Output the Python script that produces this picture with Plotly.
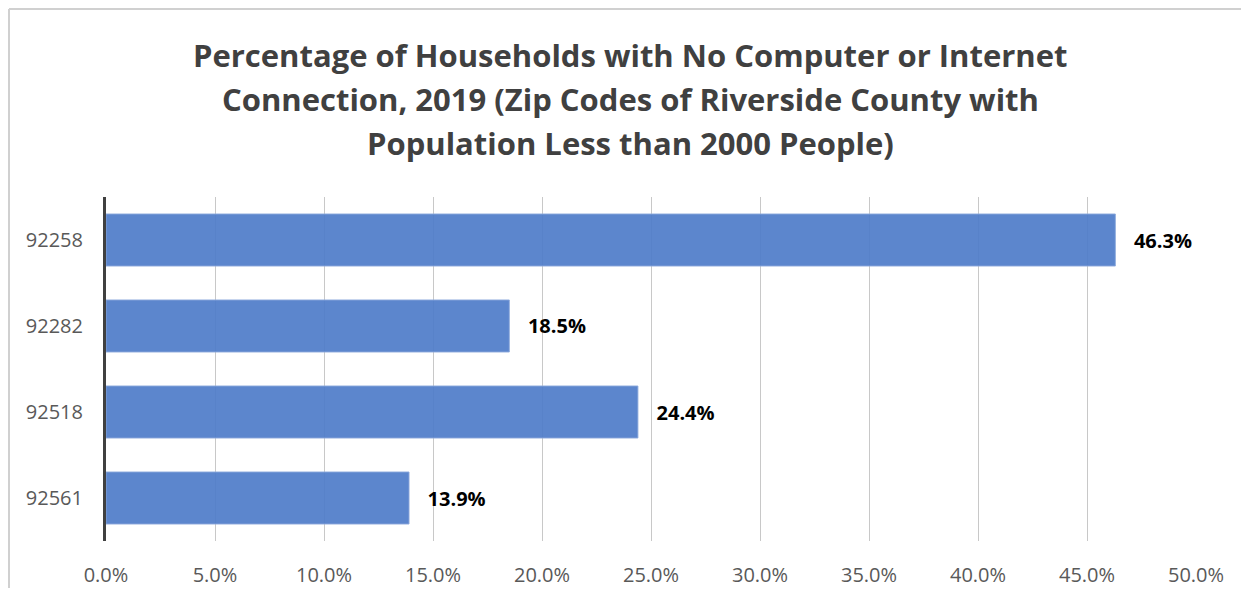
import plotly.graph_objects as go

zip_codes = ["92258", "92282", "92518", "92561"]
pct_no_computer = [46.3, 18.5, 24.4, 13.9]
x_ticks = [0, 5, 10, 15, 20, 25, 30, 35, 40, 45, 50]
title_lines = [
    "Percentage of Households with No Computer or Internet",
    "Connection, 2019 (Zip Codes of Riverside County with",
    "Population Less than 2000 People)",
]

# page body has an 8px margin; figure is placed at (8, 8) and kept inside the window
OFF = 8
W, H = 1249 - 2 * OFF, 596 - 2 * OFF
L, R, T, B = 106 - OFF, (W + OFF) - 1196, 197 - OFF, (H + OFF) - 541
PW, PH = W - L - R, H - T - B

def px_to_paper_x(px):
    return (px - OFF - L) / PW

def px_to_paper_y(py):
    return (H - B - (py - OFF)) / PH

NB = "\u00a0"

fig = go.Figure()
fig.add_trace(go.Bar(
    y=zip_codes, x=pct_no_computer, orientation="h",
    marker=dict(color="rgba(80,125,201,0.93)",
                line=dict(color="rgba(140,168,220,0.9)", width=1)),
    text=[f"<b>{NB * 3}{v:.1f}%</b>" for v in pct_no_computer],
    textposition="outside", constraintext="none", cliponaxis=False,
    textfont=dict(family="Open Sans", size=20, color="#000000"),
    hoverinfo="skip",
))

annotations = []
title_y = [55, 99, 143]
for line, yy in zip(title_lines, title_y):
    annotations.append(dict(
        x=px_to_paper_x(630), y=px_to_paper_y(yy), xref="paper", yref="paper",
        text=f"<b>{line}</b>",
        showarrow=False, xanchor="center", yanchor="middle",
        font=dict(family="Open Sans", size=31, color="#404040"),
    ))

fig.update_layout(
    width=W, height=H,
    margin=dict(l=L, r=R, t=T, b=B, autoexpand=False),
    paper_bgcolor="white", plot_bgcolor="white",
    showlegend=False, bargap=0.395,
    annotations=annotations,
    font=dict(family="Open Sans", color="#595959", size=20),
    xaxis=dict(
        range=[0, 50], tickvals=x_ticks, ticktext=[f"{t:.1f}%" for t in x_ticks],
        showgrid=True, gridcolor="#C8C8C8", gridwidth=1,
        zeroline=False, showline=False,
        ticks="outside", ticklen=16, tickcolor="rgba(0,0,0,0)",
        tickfont=dict(family="Open Sans", size=20, color="#595959"),
    ),
    yaxis=dict(
        categoryorder="array", categoryarray=zip_codes[::-1],
        showline=True, linecolor="#404040", linewidth=3,
        ticks="outside", ticklen=16, tickcolor="rgba(0,0,0,0)",
        tickfont=dict(family="Open Sans", size=20, color="#595959"),
    ),
    shapes=[
        dict(type="line", xref="paper", yref="paper",
             x0=px_to_paper_x(9), x1=px_to_paper_x(9),
             y0=px_to_paper_y(9), y1=px_to_paper_y(600),
             line=dict(color="#D0D0D0", width=2)),
        dict(type="line", xref="paper", yref="paper",
             x0=px_to_paper_x(9), x1=px_to_paper_x(1255),
             y0=px_to_paper_y(9), y1=px_to_paper_y(9),
             line=dict(color="#D0D0D0", width=2)),
    ],
)

fig.write_html("out.html")
